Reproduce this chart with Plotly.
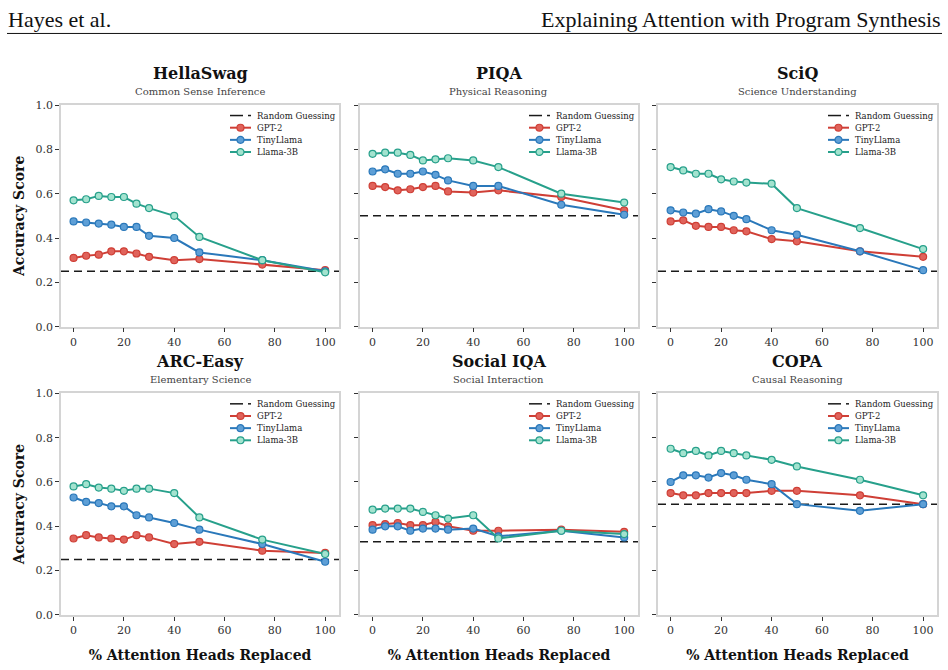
import plotly.graph_objects as go

# ---------------- data ----------------
pct_replaced = [0, 5, 10, 15, 20, 25, 30, 40, 50, 75, 100]

datasets = ["HellaSwag", "PIQA", "SciQ", "ARC-Easy", "Social IQA", "COPA"]
subtitles = ["Common Sense Inference", "Physical Reasoning", "Science Understanding",
             "Elementary Science", "Social Interaction", "Causal Reasoning"]
random_guess = [0.25, 0.50, 0.25, 0.25, 0.33, 0.50]

model_names = ["GPT-2", "TinyLlama", "Llama-3B"]

hellaswag_gpt2 = [0.31, 0.32, 0.325, 0.34, 0.34, 0.33, 0.315, 0.30, 0.305, 0.28, 0.255]
hellaswag_tiny = [0.475, 0.47, 0.465, 0.46, 0.45, 0.45, 0.41, 0.40, 0.335, 0.30, 0.25]
hellaswag_llama = [0.57, 0.575, 0.59, 0.585, 0.585, 0.555, 0.535, 0.50, 0.405, 0.30, 0.245]

piqa_gpt2 = [0.635, 0.63, 0.615, 0.62, 0.63, 0.635, 0.61, 0.605, 0.615, 0.585, 0.525]
piqa_tiny = [0.70, 0.71, 0.69, 0.69, 0.70, 0.685, 0.66, 0.635, 0.635, 0.55, 0.505]
piqa_llama = [0.78, 0.785, 0.785, 0.775, 0.75, 0.755, 0.76, 0.75, 0.72, 0.60, 0.56]

sciq_gpt2 = [0.475, 0.48, 0.455, 0.45, 0.45, 0.435, 0.43, 0.395, 0.385, 0.34, 0.315]
sciq_tiny = [0.525, 0.515, 0.51, 0.53, 0.52, 0.50, 0.485, 0.435, 0.415, 0.34, 0.255]
sciq_llama = [0.72, 0.705, 0.69, 0.69, 0.665, 0.655, 0.65, 0.645, 0.535, 0.445, 0.35]

arc_gpt2 = [0.345, 0.36, 0.35, 0.345, 0.34, 0.36, 0.35, 0.32, 0.33, 0.29, 0.28]
arc_tiny = [0.53, 0.51, 0.505, 0.49, 0.49, 0.45, 0.44, 0.415, 0.385, 0.32, 0.24]
arc_llama = [0.58, 0.59, 0.575, 0.57, 0.56, 0.57, 0.57, 0.55, 0.44, 0.34, 0.275]

siqa_gpt2 = [0.405, 0.41, 0.415, 0.405, 0.405, 0.42, 0.40, 0.38, 0.38, 0.385, 0.375]
siqa_tiny = [0.385, 0.40, 0.40, 0.38, 0.39, 0.39, 0.385, 0.39, 0.355, 0.38, 0.35]
siqa_llama = [0.475, 0.48, 0.48, 0.48, 0.465, 0.45, 0.435, 0.45, 0.345, 0.38, 0.365]

copa_gpt2 = [0.55, 0.54, 0.54, 0.55, 0.55, 0.55, 0.55, 0.56, 0.56, 0.54, 0.50]
copa_tiny = [0.60, 0.63, 0.63, 0.62, 0.64, 0.63, 0.61, 0.59, 0.50, 0.47, 0.50]
copa_llama = [0.75, 0.73, 0.74, 0.72, 0.74, 0.73, 0.72, 0.70, 0.67, 0.61, 0.54]

scores = [
    [hellaswag_gpt2, hellaswag_tiny, hellaswag_llama],
    [piqa_gpt2, piqa_tiny, piqa_llama],
    [sciq_gpt2, sciq_tiny, sciq_llama],
    [arc_gpt2, arc_tiny, arc_llama],
    [siqa_gpt2, siqa_tiny, siqa_llama],
    [copa_gpt2, copa_tiny, copa_llama],
]

x_ticks = [0, 20, 40, 60, 80, 100]
y_ticks = [0.0, 0.2, 0.4, 0.6, 0.8, 1.0]

# ---------------- style ----------------
W, H = 948, 670
line_colors = ["#cf3f36", "#2a78ba", "#27a08b"]
face_colors = ["#e0635b", "#5e9fd6", "#a3e3cf"]
X_RANGE = [-5, 105.5]
SERIF = "DejaVu Serif, serif"
HEADER_FONT = "Liberation Serif, Times New Roman, serif"

col_px = [(61, 339), (360, 638), (658, 937)]
row_px = [(101, 327), (395, 621)]


def px(x):
    return x / W


def py(y):
    return 1 - y / H


fig = go.Figure()
layout = dict(
    width=W, height=H,
    margin=dict(l=0, r=0, t=0, b=0),
    paper_bgcolor="white", plot_bgcolor="white",
    font=dict(family=SERIF, color="#222"),
    showlegend=False,
)
annotations = []
shapes = []

for i, name in enumerate(datasets):
    r, c = divmod(i, 3)
    x0, x1 = col_px[c]
    yt, yb = row_px[r]
    sfx = "" if i == 0 else str(i + 1)
    xa, ya = "x" + sfx, "y" + sfx

    layout["xaxis" + sfx] = dict(
        domain=[px(x0), px(x1)], anchor=ya, range=X_RANGE,
        tickvals=x_ticks, ticks="outside", ticklen=4, tickwidth=1, tickcolor="#333",
        showline=True, mirror=True, linecolor="#d4d4d4", linewidth=1.5,
        showgrid=False, zeroline=False,
        tickfont=dict(family=SERIF, size=11, color="#333"),
        title=dict(text="<b>% Attention Heads Replaced</b>" if r == 1 else "",
                   font=dict(family=SERIF, size=14, color="#111"), standoff=14),
    )
    layout["yaxis" + sfx] = dict(
        domain=[py(yb), py(yt)], anchor=xa, range=[0, 1],
        tickvals=y_ticks, tickformat=".1f", ticks="outside", ticklen=4, tickwidth=1,
        tickcolor="#333", showline=True, mirror=True, linecolor="#d4d4d4", linewidth=1.5,
        showgrid=False, zeroline=False,
        showticklabels=(c == 0),
        tickfont=dict(family=SERIF, size=11, color="#333"),
        title=dict(text="<b>Accuracy Score</b>" if c == 0 else "",
                   font=dict(family=SERIF, size=14, color="#111"), standoff=8),
    )

    # random guessing baseline spanning the axis range
    fig.add_trace(go.Scatter(
        x=X_RANGE, y=[random_guess[i]] * 2, mode="lines",
        line=dict(color="#1a1a1a", width=1.5, dash="8px,5px"),
        name="Random Guessing", xaxis=xa, yaxis=ya, hoverinfo="skip",
    ))
    for m, mname in enumerate(model_names):
        fig.add_trace(go.Scatter(
            x=pct_replaced, y=scores[i][m], mode="lines+markers",
            line=dict(color=line_colors[m], width=2),
            marker=dict(size=7, color=face_colors[m],
                        line=dict(color=line_colors[m], width=1.2)),
            name=mname, xaxis=xa, yaxis=ya,
        ))

    # titles
    cx = px((x0 + x1) / 2)
    annotations.append(dict(
        text="<b>%s</b>" % name, x=cx, y=py(yt), xref="paper", yref="paper",
        xanchor="center", yanchor="middle", yshift=32, showarrow=False,
        font=dict(family=SERIF, size=16, color="#111"),
    ))
    annotations.append(dict(
        text=subtitles[i], x=cx, y=py(yt), xref="paper", yref="paper",
        xanchor="center", yanchor="middle", yshift=14, showarrow=False,
        font=dict(family=SERIF, size=10, color="#444"),
    ))

    # compact legend (key samples + labels) in the panel's upper-right corner
    labels = ["Random Guessing"] + model_names
    ls, le, lt = x1 - 109, x1 - 88, x1 - 84
    for k, lab in enumerate(labels):
        yy = yt + 10.7 + k * 12.4
        if k == 0:
            shapes.append(dict(type="line", xref="paper", yref="paper",
                               x0=px(ls), x1=px(ls + 13), y0=py(yy), y1=py(yy),
                               line=dict(color="#1a1a1a", width=1.5)))
            shapes.append(dict(type="line", xref="paper", yref="paper",
                               x0=px(ls + 18), x1=px(ls + 21), y0=py(yy), y1=py(yy),
                               line=dict(color="#1a1a1a", width=1.5)))
        else:
            col, fc = line_colors[k - 1], face_colors[k - 1]
            shapes.append(dict(type="line", xref="paper", yref="paper",
                               x0=px(ls), x1=px(le), y0=py(yy), y1=py(yy),
                               line=dict(color=col, width=2)))
            cxm = (ls + le) / 2
            shapes.append(dict(type="circle", xref="paper", yref="paper",
                               x0=px(cxm - 3.5), x1=px(cxm + 3.5),
                               y0=py(yy + 3.5), y1=py(yy - 3.5),
                               fillcolor=fc, line=dict(color=col, width=1.2)))
        annotations.append(dict(
            text=lab, x=px(lt), y=py(yy), xref="paper", yref="paper",
            xanchor="left", yanchor="middle", showarrow=False,
            font=dict(family=SERIF, size=8.5, color="#222"),
        ))

# page header
annotations.append(dict(
    text="Hayes et al.", x=px(6), y=py(14), xref="paper", yref="paper",
    xanchor="left", yanchor="middle", showarrow=False,
    font=dict(family=HEADER_FONT, size=22, color="#111"),
))
annotations.append(dict(
    text="Explaining Attention with Program Synthesis", x=px(943), y=py(14),
    xref="paper", yref="paper", xanchor="right", yanchor="middle", showarrow=False,
    font=dict(family=HEADER_FONT, size=22, color="#111"),
))
shapes.append(dict(
    type="line", xref="paper", yref="paper", x0=px(7), x1=px(942),
    y0=py(28), y1=py(28), line=dict(color="#111", width=1),
))

layout["annotations"] = annotations
layout["shapes"] = shapes
fig.update_layout(**layout)
fig.write_html("out.html")
